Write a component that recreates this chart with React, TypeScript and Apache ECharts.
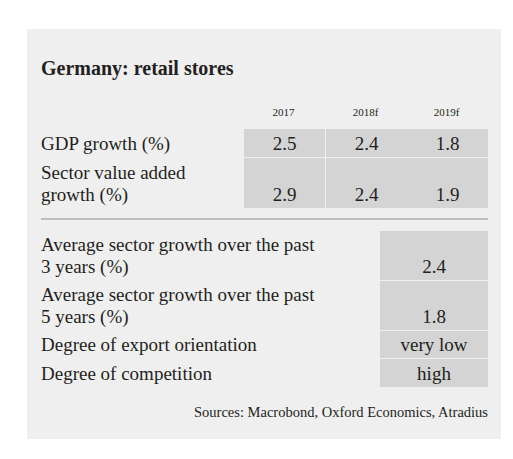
import React, { useEffect, useRef } from "react";
import * as echarts from "echarts";

const title = "Germany: retail stores";
const years = ["2017", "2018f", "2019f"];
const topRowLabels = [["GDP growth (%)"], ["Sector value added", "growth (%)"]];
const topRowValues = [
  ["2.5", "2.4", "1.8"],
  ["2.9", "2.4", "1.9"],
];
const bottomRowLabels = [
  ["Average sector growth over the past", "3 years (%)"],
  ["Average sector growth over the past", "5 years (%)"],
  ["Degree of export orientation"],
  ["Degree of competition"],
];
const bottomRowValues = ["2.4", "1.8", "very low", "high"];
const sourceText = "Sources: Macrobond, Oxford Economics, Atradius";

const FONT = "'Liberation Serif', 'DejaVu Serif', serif";
const TEXT = "#231f20";
const CELL = "#d4d4d5";
const BG = "#efefef";
const FS = 19;

export default function App() {
  const ref = useRef<HTMLDivElement>(null);
  useEffect(() => {
    if (!ref.current) return;
    const chart = echarts.init(ref.current, null, { renderer: "svg" });
    const els: any[] = [];
    const mid = (baseline: number, size: number) => baseline - size * 0.3375;

    els.push({ type: "rect", shape: { x: 27, y: 29, width: 474, height: 410 }, style: { fill: BG } });
    els.push({
      type: "text",
      style: { text: title, x: 41, y: mid(75, 20), font: `bold 20px ${FONT}`, fill: TEXT, verticalAlign: "middle" },
    });

    const colX = [244, 326, 407];
    const colW = 81;
    years.forEach((yr, i) => {
      els.push({
        type: "text",
        style: { text: yr, x: colX[i] + colW / 2 - 1, y: mid(116, 11), font: `11px ${FONT}`, fill: TEXT, align: "center", verticalAlign: "middle" },
      });
    });

    const topRows = [
      { y: 129, h: 28 },
      { y: 158, h: 50 },
    ];
    topRows.forEach((r, ri) => {
      colX.forEach((cx, ci) => {
        els.push({ type: "rect", shape: { x: cx, y: r.y, width: colW, height: r.h }, style: { fill: CELL } });
        els.push({
          type: "text",
          style: { text: topRowValues[ri][ci], x: cx + colW / 2, y: mid(r.y + r.h - 7, FS), font: `${FS}px ${FONT}`, fill: TEXT, align: "center", verticalAlign: "middle" },
        });
      });
      const lines = topRowLabels[ri];
      lines.forEach((ln, li) => {
        const base = r.y + r.h - 7 - (lines.length - 1 - li) * 22;
        els.push({ type: "text", style: { text: ln, x: 41, y: mid(base, FS), font: `${FS}px ${FONT}`, fill: TEXT, verticalAlign: "middle" } });
      });
    });

    els.push({ type: "line", shape: { x1: 41, y1: 219, x2: 488, y2: 219 }, style: { stroke: "#8c8c8c", lineWidth: 1 } });

    const bottomRows = [
      { y: 231, h: 49 },
      { y: 281, h: 49 },
      { y: 331, h: 27 },
      { y: 359, h: 28 },
    ];
    bottomRows.forEach((r, ri) => {
      els.push({ type: "rect", shape: { x: 380, y: r.y, width: 108, height: r.h }, style: { fill: CELL } });
      els.push({
        type: "text",
        style: { text: bottomRowValues[ri], x: 434, y: mid(r.y + r.h - 7, FS), font: `${FS}px ${FONT}`, fill: TEXT, align: "center", verticalAlign: "middle" },
      });
      const lines = bottomRowLabels[ri];
      lines.forEach((ln, li) => {
        const base = r.y + r.h - 7 - (lines.length - 1 - li) * 22;
        els.push({ type: "text", style: { text: ln, x: 41, y: mid(base, FS), font: `${FS}px ${FONT}`, fill: TEXT, verticalAlign: "middle" } });
      });
    });

    els.push({
      type: "text",
      style: { text: sourceText, x: 488, y: mid(417, 14.5), font: `14.5px ${FONT}`, fill: TEXT, align: "right", verticalAlign: "middle" },
    });

    chart.setOption({ animation: false, graphic: { elements: els } });
    return () => chart.dispose();
  }, []);
  return (
    <div
      ref={ref}
      style={{ position: "fixed", left: 0, top: 0, width: 513, height: 459, background: "#fff" }}
    />
  );
}
